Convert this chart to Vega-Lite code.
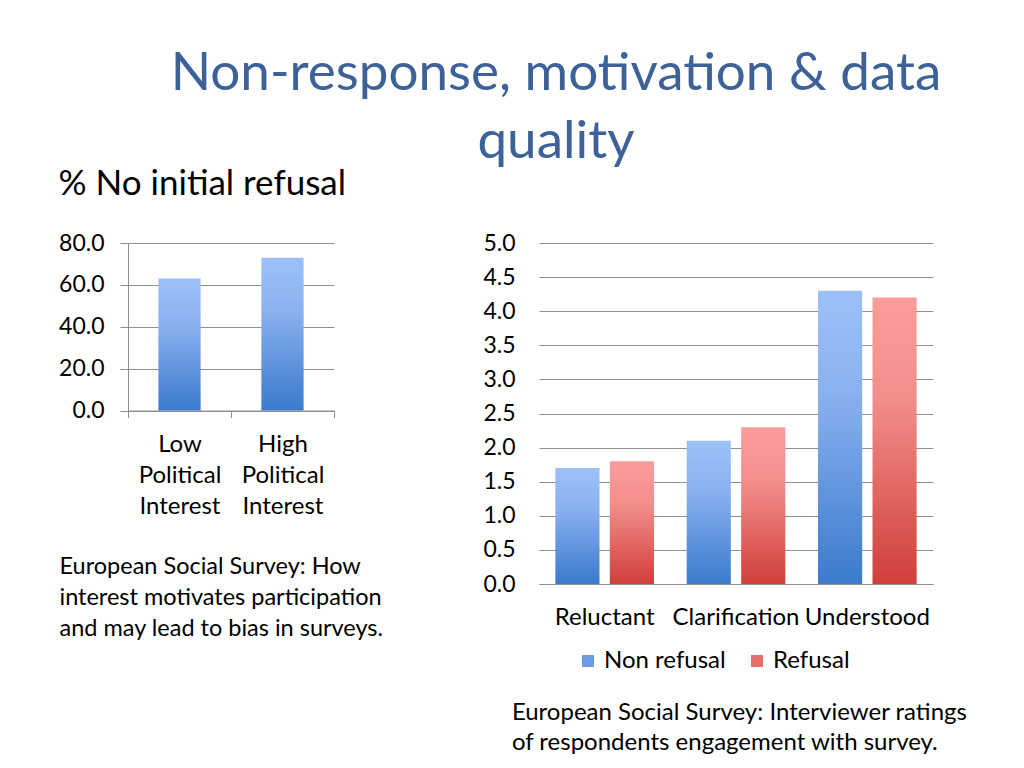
{
  "$schema": "https://vega.github.io/schema/vega-lite/v6.json",
  "padding": {"left": 58, "top": 48, "right": 5, "bottom": 5},
  "background": "white",
  "title": {
    "text": ["Non-response, motivation & data", "quality"],
    "fontSize": 53,
    "fontWeight": "normal",
    "color": "#3D6298",
    "lineHeight": 68,
    "anchor": "middle",
    "dx": 43,
    "offset": -2
  },
  "config": {
    "font": "Lato",
    "view": {"stroke": null},
    "axis": {
      "labelFontSize": 24,
      "labelColor": "black",
      "gridColor": "#8f8f8f",
      "domainColor": "#8f8f8f",
      "tickColor": "#8f8f8f",
      "titleColor": "black",
      "titleFontWeight": "normal"
    },
    "legend": {"labelFontSize": 24, "labelColor": "black"}
  },
  "resolve": {"scale": {"color": "independent"}, "legend": {"color": "independent"}},
  "hconcat": [
    {
      "width": 206,
      "height": 167.5,
      "title": {
        "text": "% No initial refusal",
        "anchor": "start",
        "frame": "bounds",
        "fontSize": 35,
        "fontWeight": "normal",
        "color": "black",
        "offset": 30
      },
      "data": {
        "values": [
          {"interest": "Low Political Interest", "pct": 63},
          {"interest": "High Political Interest", "pct": 73}
        ]
      },
      "mark": {
        "type": "bar",
        "width": {"band": 0.41},
        "color": {
          "gradient": "linear", "x1": 0, "y1": 0, "x2": 0, "y2": 1,
          "stops": [
            {"offset": 0, "color": "#9CC1F9"},
            {"offset": 0.35, "color": "#8AB1F0"},
            {"offset": 1, "color": "#3B7ACC"}
          ]
        }
      },
      "encoding": {
        "x": {
          "field": "interest",
          "type": "nominal",
          "sort": null,
          "scale": {"paddingInner": 0, "paddingOuter": 0},
          "axis": {
            "labelAngle": 0,
            "labelExpr": "split(datum.label, ' ')",
            "labelLineHeight": 31,
            "labelPadding": 15,
            "labelBaseline": "top",
            "tickBand": "extent",
            "tickSize": 7,
            "title": ["European Social Survey: How", "interest motivates participation", "and may lead to bias in surveys."],
            "titleAnchor": "start",
            "titleAlign": "left",
            "titleX": -69,
            "titlePadding": 36,
            "titleFontSize": 23.5,
            "titleLineHeight": 31
          }
        },
        "y": {
          "field": "pct",
          "type": "quantitative",
          "scale": {"domain": [0, 80]},
          "axis": {
            "values": [0, 20, 40, 60, 80],
            "format": ".1f",
            "title": null,
            "tickSize": 8,
            "labelPadding": 16,
            "labelFontSize": 23
          }
        }
      }
    },
    {
      "width": 394,
      "height": 341,
      "title": {
        "text": ["European Social Survey: Interviewer ratings", "of respondents engagement with survey."],
        "orient": "bottom",
        "anchor": "start",
        "frame": "bounds",
        "dx": 29,
        "offset": -9,
        "fontSize": 24,
        "lineHeight": 30,
        "fontWeight": "normal",
        "color": "black"
      },
      "data": {
        "values": [
          {"rating": "Reluctant", "group": "Non refusal", "score": 1.7},
          {"rating": "Reluctant", "group": "Refusal", "score": 1.8},
          {"rating": "Clarification", "group": "Non refusal", "score": 2.1},
          {"rating": "Clarification", "group": "Refusal", "score": 2.3},
          {"rating": "Understood", "group": "Non refusal", "score": 4.3},
          {"rating": "Understood", "group": "Refusal", "score": 4.2}
        ]
      },
      "encoding": {
        "x": {
          "field": "rating",
          "type": "nominal",
          "sort": ["Reluctant", "Clarification", "Understood"],
          "scale": {"paddingInner": 0, "paddingOuter": 0},
          "axis": {"labelAngle": 0, "title": null, "ticks": false, "labelPadding": 21}
        },
        "xOffset": {
          "field": "group",
          "sort": ["Non refusal", "Refusal"],
          "scale": {"paddingInner": 0.19, "paddingOuter": 0.3}
        },
        "y": {
          "field": "score",
          "type": "quantitative",
          "scale": {"domain": [0, 5]},
          "axis": {
            "values": [0, 0.5, 1, 1.5, 2, 2.5, 3, 3.5, 4, 4.5, 5],
            "format": ".1f",
            "title": null,
            "ticks": false,
            "domain": false,
            "labelPadding": 24,
            "labelFontSize": 23
          }
        }
      },
      "layer": [
        {
          "mark": {"type": "bar", "opacity": 0},
          "encoding": {
            "color": {
              "field": "group",
              "type": "nominal",
              "scale": {"domain": ["Non refusal", "Refusal"], "range": ["#6A9BE3", "#E86C69"]},
              "legend": {
                "title": null,
                "orient": "bottom",
                "direction": "horizontal",
                "symbolType": "square",
                "symbolSize": 144,
                "symbolStrokeWidth": 0,
                "symbolOpacity": 1,
                "columnPadding": 19,
                "labelOffset": 4,
                "padding": 37,
                "offset": -17
              }
            }
          }
        },
        {
          "mark": {"type": "bar"},
          "encoding": {
            "fill": {
              "condition": {
                "test": "datum.group === 'Refusal'",
                "value": {
                  "gradient": "linear", "x1": 0, "y1": 0, "x2": 0, "y2": 1,
                  "stops": [
                    {"offset": 0, "color": "#FC9D9B"},
                    {"offset": 0.35, "color": "#F38E8B"},
                    {"offset": 1, "color": "#D03F3A"}
                  ]
                }
              },
              "value": {
                "gradient": "linear", "x1": 0, "y1": 0, "x2": 0, "y2": 1,
                "stops": [
                  {"offset": 0, "color": "#9CC1F9"},
                  {"offset": 0.35, "color": "#8AB1F0"},
                  {"offset": 1, "color": "#3B7ACC"}
                ]
              }
            }
          }
        }
      ]
    }
  ],
  "spacing": 205,
  "bounds": "flush"
}
